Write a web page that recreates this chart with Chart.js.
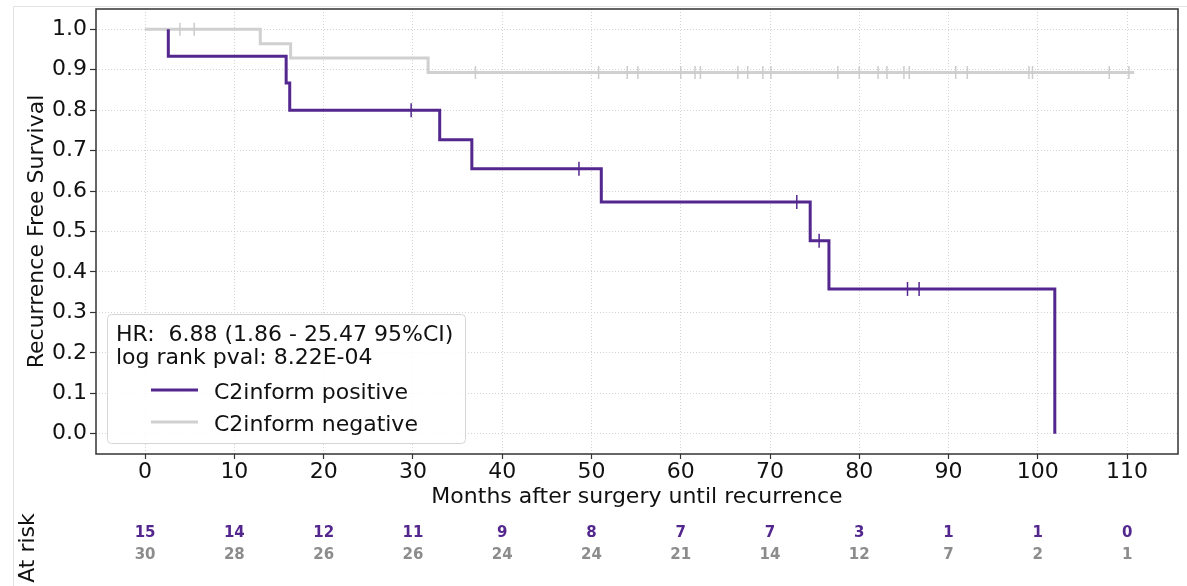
<!DOCTYPE html>
<html>
<head>
<meta charset="utf-8">
<script src="https://cdn.jsdelivr.net/npm/chart.js@4.4.1/dist/chart.umd.min.js"></script>
<style>
  html, body { margin: 0; padding: 0; background: #fff; }
  canvas { display: block; }
</style>
</head>
<body>
<canvas id="kmChart" width="1187" height="586" style="width:1187px;height:586px"></canvas>
<script>
// Kaplan-Meier steps (months, survival after the step)
var posStart = [2.6, 1.0];
var posStepTimes = [2.6, 15.8, 16.2, 33.0, 36.6, 51.1, 74.5, 76.6, 101.9];
var posStepSurv = [0.933, 0.867, 0.800, 0.727, 0.655, 0.573, 0.477, 0.358, 0.0];
var posCensored = [29.8, 48.6, 73.0, 75.5, 85.4, 86.7];

var negStart = [0, 1.0];
var negStepTimes = [12.9, 16.3, 31.7];
var negStepSurv = [0.964, 0.929, 0.893];
var negEnd = 110.8;
var negCensored = [3.9, 5.5, 37.0, 50.8, 54.0, 55.2, 60.0, 61.6, 62.2, 66.4, 67.5, 69.2, 70.1,
  77.6, 80.0, 82.1, 83.1, 85.0, 85.6, 90.8, 92.1, 99.0, 99.4, 108.0, 110.2];

// axis ticks and the number-at-risk table
var xTicks = [0, 10, 20, 30, 40, 50, 60, 70, 80, 90, 100, 110];
var yTicks = [0, 0.1, 0.2, 0.3, 0.4, 0.5, 0.6, 0.7, 0.8, 0.9, 1.0];
var posAtRisk = [15, 14, 12, 11, 9, 8, 7, 7, 3, 1, 1, 0];
var negAtRisk = [30, 28, 26, 26, 24, 24, 21, 14, 12, 7, 2, 1];

var seriesNames = ['C2inform positive', 'C2inform negative'];
var statLines = ['HR:  6.88 (1.86 - 25.47 95%CI)', 'log rank pval: 8.22E-04'];

var purple = '#54278f';
var lightGray = '#d0d0d0';
var riskGray = '#8c8c8c';

function stepPoints(start, times, surv, end) {
  var pts = [{ x: start[0], y: start[1] }];
  for (var i = 0; i < times.length; i++) pts.push({ x: times[i], y: surv[i] });
  if (end !== undefined) pts.push({ x: end, y: surv[surv.length - 1] });
  return pts;
}

function survivalAt(start, times, surv, t) {
  var s = start[1];
  for (var i = 0; i < times.length; i++) {
    if (times[i] <= t) s = surv[i];
  }
  return s;
}

function censorPoints(start, times, surv, cens) {
  return cens.map(function (t) {
    return { x: t, y: survivalAt(start, times, surv, t) };
  });
}

Chart.defaults.font.family = 'DejaVu Sans';
Chart.defaults.color = '#111';

var kmExtras = {
  id: 'kmExtras',
  beforeDraw: function (chart) {
    var ctx = chart.ctx;
    ctx.save();
    ctx.strokeStyle = '#e3e3e3';
    ctx.lineWidth = 1;
    ctx.strokeRect(13.5, 6.5, 1200, 600);
    ctx.restore();
  },
  afterDatasetsDraw: function (chart) {
    var ctx = chart.ctx;
    var a = chart.chartArea;
    ctx.save();
    // legend box, lower left of the plot
    var bx = a.left + 11, bw = 358, bh = 129, by = a.bottom - 11 - bh;
    ctx.fillStyle = 'rgba(255,255,255,0.85)';
    ctx.strokeStyle = '#d6d6d6';
    ctx.lineWidth = 1;
    ctx.beginPath();
    ctx.roundRect(bx + 0.5, by + 0.5, bw, bh, 4);
    ctx.fill();
    ctx.stroke();
    ctx.fillStyle = '#111';
    ctx.font = '22px "DejaVu Sans"';
    ctx.textAlign = 'left';
    ctx.textBaseline = 'alphabetic';
    ctx.fillText(statLines[0], bx + 9, by + 27);
    ctx.fillText(statLines[1], bx + 9, by + 50);
    var colors = [purple, lightGray];
    for (var i = 0; i < seriesNames.length; i++) {
      var ly = by + 76 + i * 32;
      ctx.strokeStyle = colors[i];
      ctx.lineWidth = 3;
      ctx.beginPath();
      ctx.moveTo(bx + 44, ly);
      ctx.lineTo(bx + 91, ly);
      ctx.stroke();
      ctx.fillStyle = '#111';
      ctx.fillText(seriesNames[i], bx + 107, ly + 9);
    }
    // full box of spines
    ctx.strokeStyle = '#333';
    ctx.lineWidth = 1.5;
    ctx.strokeRect(a.left, a.top, a.right - a.left, a.bottom - a.top);
    ctx.restore();
  },
  afterDraw: function (chart) {
    var ctx = chart.ctx;
    var xs = chart.scales.x;
    ctx.save();
    ctx.textAlign = 'center';
    ctx.textBaseline = 'middle';
    ctx.font = 'bold 15px "DejaVu Sans"';
    for (var i = 0; i < xTicks.length; i++) {
      var px = xs.getPixelForValue(xTicks[i]);
      ctx.fillStyle = purple;
      ctx.fillText(String(posAtRisk[i]), px, 533);
      ctx.fillStyle = riskGray;
      ctx.fillText(String(negAtRisk[i]), px, 555);
    }
    ctx.translate(28, 548);
    ctx.rotate(-Math.PI / 2);
    ctx.fillStyle = '#111';
    ctx.font = '22px "DejaVu Sans"';
    ctx.fillText('At risk', 0, 0);
    ctx.restore();
  }
};

var ctx = document.getElementById('kmChart').getContext('2d');
var chart = new Chart(ctx, {
  type: 'scatter',
  data: {
    datasets: [
      {
        label: seriesNames[0],
        data: stepPoints(posStart, posStepTimes, posStepSurv),
        showLine: true,
        stepped: 'before',
        borderColor: purple,
        borderWidth: 3,
        pointRadius: 0,
        order: 1
      },
      {
        label: seriesNames[0] + ' censored',
        data: censorPoints(posStart, posStepTimes, posStepSurv, posCensored),
        showLine: false,
        pointStyle: 'line',
        rotation: 90,
        pointRadius: 7,
        pointHoverRadius: 7,
        borderColor: purple,
        borderWidth: 1.5,
        order: 0
      },
      {
        label: seriesNames[1],
        data: stepPoints(negStart, negStepTimes, negStepSurv, negEnd),
        showLine: true,
        stepped: 'before',
        borderColor: lightGray,
        borderWidth: 3,
        pointRadius: 0,
        order: 3
      },
      {
        label: seriesNames[1] + ' censored',
        data: censorPoints(negStart, negStepTimes, negStepSurv, negCensored),
        showLine: false,
        pointStyle: 'line',
        rotation: 90,
        pointRadius: 6.5,
        pointHoverRadius: 6.5,
        borderColor: '#cccccc',
        borderWidth: 1.5,
        order: 2
      }
    ]
  },
  options: {
    responsive: false,
    animation: false,
    events: [],
    layout: { padding: { left: 20, right: 9, top: 9, bottom: 72 } },
    plugins: {
      legend: { display: false },
      tooltip: { enabled: false }
    },
    scales: {
      x: {
        type: 'linear',
        min: -5.5,
        max: 115.7,
        afterBuildTicks: function (scale) {
          scale.ticks = xTicks.map(function (v) { return { value: v }; });
        },
        afterFit: function (scale) {
          scale.height = 60;
          scale.paddingLeft = 0; scale.paddingRight = 0;
          scale.paddingTop = 0; scale.paddingBottom = 0;
        },
        grid: {
          color: '#d4d4d4',
          lineWidth: 1,
          tickColor: '#333',
          tickLength: 5,
          tickWidth: 1.2,
          tickBorderDash: []
        },
        border: { display: false, dash: [1, 2] },
        ticks: {
          font: { size: 22, lineHeight: 1 },
          color: '#111',
          padding: 2,
          maxRotation: 0
        },
        title: {
          display: true,
          text: 'Months after surgery until recurrence',
          font: { size: 22 },
          color: '#111',
          padding: { top: 0, bottom: 4 }
        }
      },
      y: {
        type: 'linear',
        min: -0.05,
        max: 1.05,
        afterBuildTicks: function (scale) {
          scale.ticks = yTicks.map(function (v) { return { value: v }; });
        },
        afterFit: function (scale) {
          scale.width = 76;
          scale.paddingLeft = 0; scale.paddingRight = 0;
          scale.paddingTop = 0; scale.paddingBottom = 0;
        },
        grid: {
          color: '#d4d4d4',
          lineWidth: 1,
          tickColor: '#333',
          tickLength: 6,
          tickWidth: 1.2,
          tickBorderDash: []
        },
        border: { display: false, dash: [1, 2] },
        ticks: {
          font: { size: 22, lineHeight: 1 },
          color: '#111',
          padding: 3,
          callback: function (v) { return v.toFixed(1); }
        },
        title: {
          display: true,
          text: 'Recurrence Free Survival',
          font: { size: 22 },
          color: '#111',
          padding: { top: 4, bottom: 0 }
        }
      }
    }
  },
  plugins: [kmExtras]
});
</script>
</body>
</html>
